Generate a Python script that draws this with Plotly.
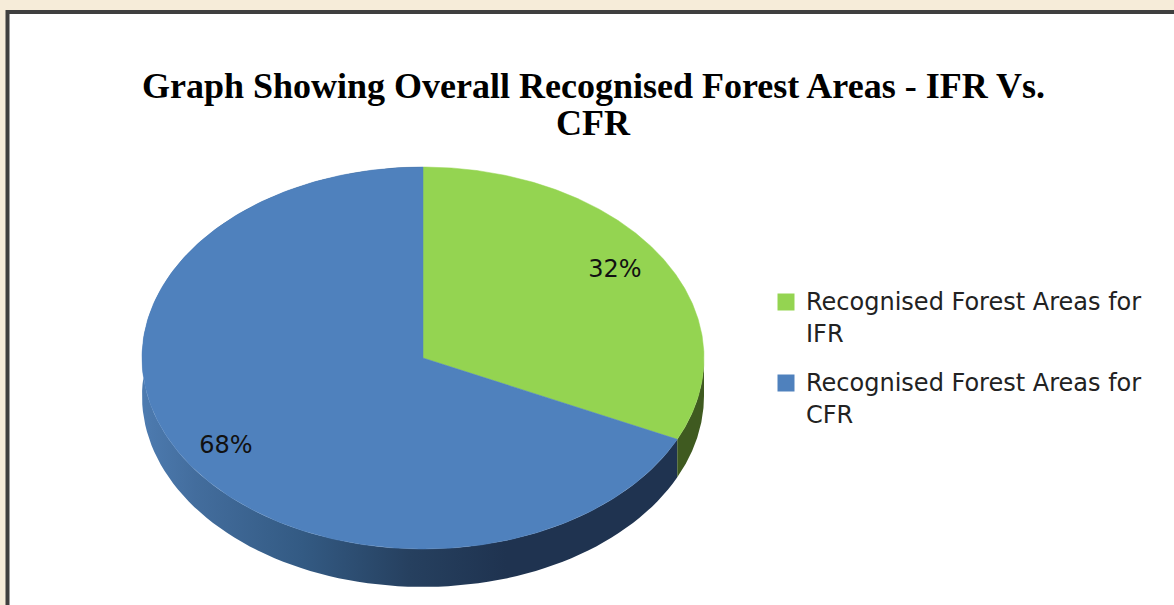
import numpy as np
import plotly.graph_objects as go

# Data
categories = ["Recognised Forest Areas for IFR", "Recognised Forest Areas for CFR"]
legend_lines = [["Recognised Forest Areas for", "IFR"], ["Recognised Forest Areas for", "CFR"]]
shares = [32, 68]
slice_labels = ["32%", "68%"]
title_lines = ["Graph Showing Overall Recognised Forest Areas - IFR Vs.", "CFR"]

# Style
TOP_COLORS = ["#94d451", "#4f81bd"]
WALL_GREEN = "#3f5a20"
CX, CY, RX, RY, DEPTH = 423, 358, 281, 191, 38
FRAME = "#3f3f3f"
BG = "#f6ecd9"
BODY_FONT = "DejaVu Sans"


def ell(t):
    """t measured clockwise from the top of the pie, radians."""
    return CX + RX * np.sin(t), CY - RY * np.cos(t)


fracs = np.cumsum([0] + shares) / sum(shares) * 2 * np.pi
fig = go.Figure()

def wall(t0, t1, **kw):
    t = np.linspace(t0, t1, 120)
    x, y = ell(t)
    xs = np.r_[x, x[::-1], x[0]]
    ys = np.r_[y, y[::-1] + DEPTH, y[0]]
    fig.add_trace(go.Scatter(x=xs, y=ys, mode="lines", fill="toself", line=dict(width=0),
                             hoverinfo="skip", showlegend=False, **kw))

wall(fracs[1], fracs[2], fillcolor="#1f3350",
     fillgradient=dict(type="horizontal",
                       colorscale=[[0, "#4d7bb0"], [0.10, "#436d9d"], [0.3, "#335a83"],
                                   [0.5, "#26405f"], [0.68, "#1f3350"], [1, "#1f3350"]]))
wall(np.pi / 2, fracs[1], fillcolor=WALL_GREEN)

for i in range(2):
    t = np.linspace(fracs[i], fracs[i + 1], 240)
    x, y = ell(t)
    fig.add_trace(go.Scatter(x=np.r_[CX, x, CX], y=np.r_[CY, y, CY], mode="lines", fill="toself",
                             fillcolor=TOP_COLORS[i], line=dict(width=0.5, color=TOP_COLORS[i]),
                             name=categories[i], hovertemplate="%{text}<extra></extra>",
                             text=[slice_labels[i]] * 242, showlegend=False))

fig.add_trace(go.Scatter(x=[615, 226], y=[271, 447], mode="text", text=slice_labels,
                         textfont=dict(family=BODY_FONT, size=24, color="#111"),
                         hoverinfo="skip", showlegend=False))
fig.add_trace(go.Scatter(x=[786, 786], y=[302, 383], mode="markers",
                         marker=dict(symbol="square", size=17, color=TOP_COLORS),
                         hoverinfo="skip", showlegend=False))
for y0, lines in zip([302, 383], legend_lines):
    for k, line in enumerate(lines):
        fig.add_annotation(x=804, y=y0 + 32 * k, text=line, showarrow=False, xanchor="left",
                           yanchor="middle", align="left",
                           font=dict(family=BODY_FONT, size=24, color="#222"))

for yy, line in zip([86, 123], title_lines):
    fig.add_annotation(x=593, y=yy, text="<b>" + line + "</b>", showarrow=False, xanchor="center",
                       yanchor="middle", font=dict(family="Liberation Serif", size=36, color="#000"))

fig.update_layout(
    width=1174, height=605, margin=dict(l=0, r=0, t=0, b=0),
    paper_bgcolor=BG, plot_bgcolor=BG, autosize=False,
    xaxis=dict(range=[0, 1174], visible=False, fixedrange=True),
    yaxis=dict(range=[605, 0], visible=False, fixedrange=True),
    shapes=[dict(type="rect", x0=7.5, x1=1190, y0=12, y1=640, layer="below",
                 line=dict(color=FRAME, width=4), fillcolor="white")],
)
fig.write_html("out.html", config=dict(displayModeBar=False),
               post_script="document.body.style.margin='0';document.body.style.overflow='hidden';")
